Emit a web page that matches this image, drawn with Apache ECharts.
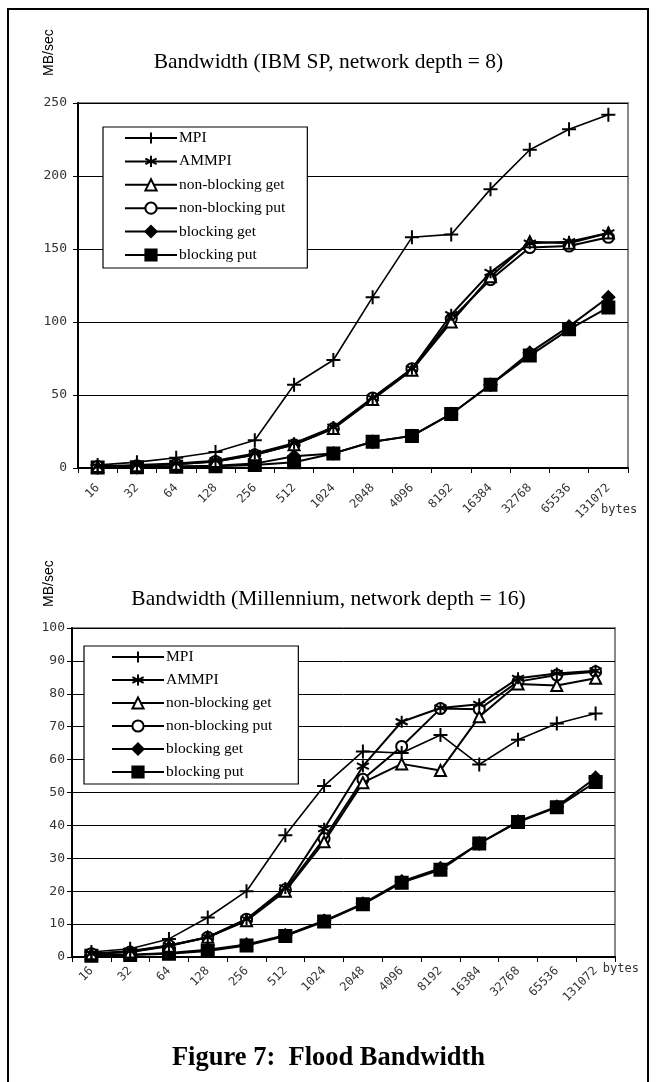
<!DOCTYPE html>
<html>
<head>
<meta charset="utf-8">
<script src="https://cdn.jsdelivr.net/npm/echarts@6/dist/echarts.min.js"></script>
<style>
  html, body { margin: 0; padding: 0; background: #fff; }
  #chart { width: 657px; height: 1082px; }
</style>
</head>
<body>
<div id="chart"></div>
<script>
// message sizes (bytes)
var sizes = ['16', '32', '64', '128', '256', '512', '1024', '2048', '4096', '8192', '16384', '32768', '65536', '131072'];
var names = ['MPI', 'AMMPI', 'non-blocking get', 'non-blocking put', 'blocking get', 'blocking put'];

// IBM SP, network depth = 8
var spMpi = [2, 4, 7, 11, 19, 57, 74, 117, 158, 160, 191, 218, 232, 242];
var spAmmpi = [1, 2, 3, 5, 10, 17, 28, 48, 68, 105, 134, 154, 155, 161];
var spNbGet = [1, 1.5, 2.5, 4.5, 9, 16, 27, 47, 67, 100, 131, 155, 154, 161];
var spNbPut = [1, 1.5, 2.5, 4.5, 9, 16, 27, 48, 68, 102, 129, 151, 152, 158];
var spBGet = [0.3, 0.5, 1, 1.5, 3, 8, 10, 18, 22, 37, 57, 79, 97, 117];
var spBPut = [0.3, 0.5, 0.8, 1.2, 2, 4, 10, 18, 22, 37, 57, 77, 95, 110];

// Millennium, network depth = 16
var mlMpi = [1.5, 2.5, 5.5, 12, 20, 37, 52, 62.5, 62, 67.5, 58.5, 66, 71, 74];
var mlAmmpi = [1, 1.8, 3.5, 6, 11.5, 21, 39, 58, 71.5, 75.7, 76.8, 84.7, 86.2, 87];
var mlNbGet = [1, 1.5, 3.3, 6, 11, 20, 35, 53, 58.7, 56.7, 73, 83, 82.5, 84.7];
var mlNbPut = [1, 1.5, 3.5, 6, 11.5, 20.5, 36, 54, 64, 75.5, 75.3, 83.7, 85.7, 86.7];
var mlBGet = [0.5, 0.7, 1.2, 2.2, 3.8, 6.6, 11, 16.2, 23, 27, 34.5, 41.2, 45.7, 54.5];
var mlBPut = [0.4, 0.6, 1, 1.8, 3.5, 6.4, 10.8, 16, 22.6, 26.5, 34.5, 41, 45.5, 53.2];

var symbols = [
    {symbol: 'path://M5,0L5,10M0,5L10,5', size: 14, fill: '#000'},
    {symbol: 'path://M5,0L5,10M0.7,2.5L9.3,7.5M0.7,7.5L9.3,2.5', size: 12, fill: '#000'},
    {symbol: 'triangle', size: 11, fill: '#fff'},
    {symbol: 'circle', size: 11, fill: '#fff'},
    {symbol: 'diamond', size: 12, fill: '#000'},
    {symbol: 'rect', size: 12, fill: '#000'}
];

function makeSeries(idx, values) {
    var list = [];
    for (var i = 0; i < names.length; i++) {
        var s = symbols[i];
        list.push({
            name: names[i],
            type: 'line',
            xAxisIndex: idx,
            yAxisIndex: idx,
            data: values[i],
            symbol: s.symbol,
            symbolSize: s.size,
            showAllSymbol: true,
            animation: false,
            z: 10 - i,
            lineStyle: {color: '#000', width: i === 0 ? 1.6 : 2},
            itemStyle: {color: s.fill, borderColor: '#000', borderWidth: 2}
        });
    }
    return list;
}

var tickFont = 'DejaVu Sans Mono';

function xAxisOf(idx) {
    return {
        gridIndex: idx,
        type: 'category',
        data: sizes,
        boundaryGap: true,
        name: 'bytes',
        nameLocation: 'end',
        nameGap: idx === 0 ? -27 : -24,
        nameTextStyle: {
            fontFamily: tickFont, fontSize: 12, color: '#333',
            verticalAlign: 'top', padding: [idx === 0 ? 36 : 6, 0, 0, 0]
        },
        axisLine: {lineStyle: {color: '#000', width: 2}},
        axisTick: {show: true, interval: 0, length: 5, lineStyle: {color: '#000', width: 1}},
        axisLabel: {
            interval: 0, rotate: 45, margin: idx === 0 ? 18 : 12,
            fontFamily: tickFont, fontSize: 12, color: '#333'
        },
        splitLine: {show: false}
    };
}

function yAxisOf(idx, max, step) {
    return {
        gridIndex: idx,
        type: 'value',
        min: 0,
        max: max,
        interval: step,
        axisLine: {show: true, lineStyle: {color: '#000', width: 2}},
        axisTick: {show: true, length: 5, lineStyle: {color: '#000'}},
        axisLabel: {fontFamily: tickFont, fontSize: 13, color: '#333', margin: idx === 0 ? 11 : 7},
        splitLine: {show: true, lineStyle: {color: '#000', width: 1}}
    };
}

function legendOf(idx) {
    return {
        orient: 'vertical',
        left: idx === 0 ? 103 : 84,
        top: idx === 0 ? 127 : 646,
        data: names,
        backgroundColor: '#fff',
        borderColor: '#000',
        borderWidth: 1.2,
        borderRadius: 0,
        padding: idx === 0 ? [3, 22, 5, 21] : [3, 26, 4, 27],
        itemWidth: 52,
        itemHeight: 14,
        itemGap: idx === 0 ? 7.4 : 7,
        selectedMode: false,
        textStyle: {fontFamily: 'Liberation Serif', fontSize: 15.5, color: '#000', padding: [0, 0, 0, -3]}
    };
}

var myChart = echarts.init(document.getElementById('chart'));
var option = {
    backgroundColor: '#fff',
    animation: false,
    title: [
        {
            text: 'Bandwidth (IBM SP, network depth = 8)',
            left: 'center', top: 46,
            textStyle: {fontFamily: 'Liberation Serif', fontSize: 21.5, fontWeight: 'normal', color: '#000'}
        },
        {
            text: 'Bandwidth (Millennium, network depth = 16)',
            left: 'center', top: 583,
            textStyle: {fontFamily: 'Liberation Serif', fontSize: 21.5, fontWeight: 'normal', color: '#000'}
        },
        {
            text: 'Figure 7:  Flood Bandwidth',
            left: 'center', top: 1040,
            textStyle: {fontFamily: 'Liberation Serif', fontSize: 26.5, fontWeight: 'bold', color: '#000'}
        }
    ],
    legend: [legendOf(0), legendOf(1)],
    grid: [
        {left: 78, top: 103, width: 550, height: 365, show: true, borderColor: '#888', borderWidth: 2, backgroundColor: '#fff'},
        {left: 72, top: 628, width: 543, height: 329, show: true, borderColor: '#888', borderWidth: 2, backgroundColor: '#fff'}
    ],
    xAxis: [xAxisOf(0), xAxisOf(1)],
    yAxis: [yAxisOf(0, 250, 50), yAxisOf(1, 100, 10)],
    graphic: [
        {
            type: 'polyline',
            shape: {points: [[8, 1090], [8, 9], [648, 9], [648, 1090]]},
            style: {stroke: '#000', lineWidth: 2, fill: null},
            silent: true
        },
        {
            type: 'text', x: 42, y: 76, rotation: Math.PI / 2,
            style: {text: 'MB/sec', font: '14px "Liberation Sans"', fill: '#000'}
        },
        {
            type: 'text', x: 42, y: 607, rotation: Math.PI / 2,
            style: {text: 'MB/sec', font: '14px "Liberation Sans"', fill: '#000'}
        }
    ],
    series: makeSeries(0, [spMpi, spAmmpi, spNbGet, spNbPut, spBGet, spBPut])
        .concat(makeSeries(1, [mlMpi, mlAmmpi, mlNbGet, mlNbPut, mlBGet, mlBPut]))
};

myChart.setOption(option);
</script>
</body>
</html>
